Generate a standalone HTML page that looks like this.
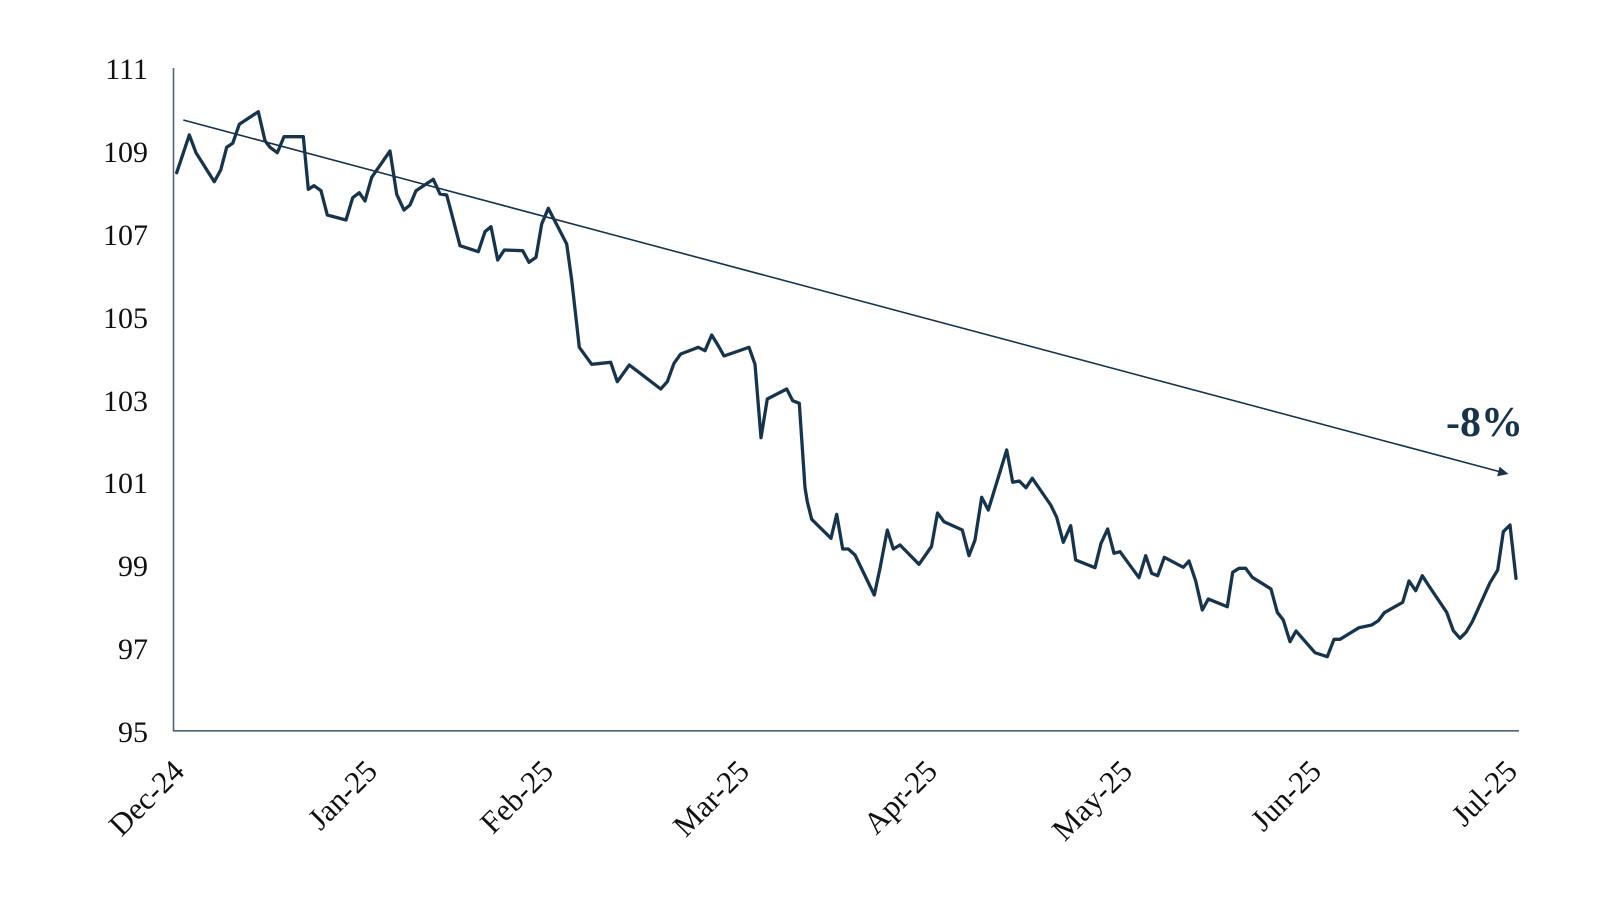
<!DOCTYPE html>
<html>
<head>
<meta charset="utf-8">
<style>
  html, body { margin: 0; padding: 0; background: #ffffff; }
  body { width: 1600px; height: 900px; overflow: hidden; }
  svg { display: block; }
  .yl { font-family: "Liberation Serif", serif; font-size: 30px; fill: #111; }
  .xl { font-family: "Liberation Serif", serif; font-size: 31px; fill: #111; }
  .ann { font-family: "Liberation Serif", serif; font-size: 42px; font-weight: bold; fill: #17344d; }
</style>
</head>
<body>
<svg width="1600" height="900" viewBox="0 0 1600 900" xmlns="http://www.w3.org/2000/svg">
  <rect x="0" y="0" width="1600" height="900" fill="#ffffff"/>

  <!-- axes -->
  <line x1="173.5" y1="68" x2="173.5" y2="731" stroke="#4d6477" stroke-width="1.6"/>
  <line x1="173" y1="730.8" x2="1519" y2="730.8" stroke="#4d6477" stroke-width="1.6"/>

  <!-- y labels -->
  <text class="yl" x="148" y="79" text-anchor="end">111</text>
  <text class="yl" x="148" y="162" text-anchor="end">109</text>
  <text class="yl" x="148" y="245" text-anchor="end">107</text>
  <text class="yl" x="148" y="328" text-anchor="end">105</text>
  <text class="yl" x="148" y="411" text-anchor="end">103</text>
  <text class="yl" x="148" y="493" text-anchor="end">101</text>
  <text class="yl" x="148" y="576" text-anchor="end">99</text>
  <text class="yl" x="148" y="659" text-anchor="end">97</text>
  <text class="yl" x="148" y="742" text-anchor="end">95</text>

  <!-- x labels -->
  <text class="xl" text-anchor="end" transform="translate(186,773) rotate(-45)">Dec-24</text>
  <text class="xl" text-anchor="end" transform="translate(379,773) rotate(-45)">Jan-25</text>
  <text class="xl" text-anchor="end" transform="translate(555,773) rotate(-45)">Feb-25</text>
  <text class="xl" text-anchor="end" transform="translate(751,773) rotate(-45)">Mar-25</text>
  <text class="xl" text-anchor="end" transform="translate(939,773) rotate(-45)">Apr-25</text>
  <text class="xl" text-anchor="end" transform="translate(1134,773) rotate(-45)">May-25</text>
  <text class="xl" text-anchor="end" transform="translate(1323,773) rotate(-45)">Jun-25</text>
  <text class="xl" text-anchor="end" transform="translate(1519,773) rotate(-45)">Jul-25</text>

  <!-- trend arrow -->
  <line x1="183.3" y1="120" x2="1499" y2="471.5" stroke="#17344d" stroke-width="1.6"/>
  <polygon points="1508.5,474 1497.2,476.2 1499.6,466.8" fill="#17344d"/>
  <text class="ann" x="1446" y="436">-8%</text>

  <!-- series -->
  <polyline fill="none" stroke="#17344d" stroke-width="3.3" stroke-linejoin="round" stroke-linecap="round" points="
176.7,172.7 189.3,135 196,152.7 214.3,181.7 220.7,170 226.7,147.3 232.7,143.3 239.3,124.3 258.3,111.7 265,140.7
270,147.3 277.3,152.7 284,136.7 303.3,136.7 308.3,189.3 314,185.7 321,190.7 327.3,215 346,220 352.7,197.7
359.3,192.7 365,201 371.7,177.3 390,151 396.7,194.3 404,210 410,205 416,190.7 433.3,179.3 440,194
446.7,195 453.3,220 460,245.7 478.3,251.7 485,231.7 491,226.7 497.7,260 504.3,250 522.7,250.7 529,262.3
536,257.3 541.7,224 548.3,208.3 566.7,244 571.7,280 579.3,347.3 591.7,364.3 610.7,362.3 617.3,381.7 629.3,365
660.7,389 667.3,381.7 674,363.3 680.7,354 698.3,347.3 705,350.7 711.7,335 718.3,345.7 724,356 749,347.3
755,364.3 761,437.7 767.3,399 786.7,389 792.7,400.7 799.3,403.3 805,487.7 807.3,501.7 811.7,519.3 831,538.3
836.7,514.3 842.7,549 848.3,549 855,555 874.3,595 880,568.3 887.3,530 893.3,549 900,545 919,564.3
931.5,546.5 937.5,513 944,521.7 962.3,530 969,555.7 975,540 981.7,497.3 988.3,510 1006.7,450 1012.7,482.3
1019.3,481 1026,487.7 1032.3,478.3 1050.7,505 1056.7,517.3 1063.3,542.3 1070.7,525.7 1075.7,560 1095,567.7 1101,543.3
1107.7,529 1114,553.3 1120,551.7 1139,577.7 1145.7,555.7 1151.7,573.3 1157.7,575.7 1164.3,557.3 1183.3,567.3 1189,561
1195.7,581 1202.3,610 1208.3,599 1227.3,606.7 1232.7,572.3 1239,568.3 1245.7,568.3 1252.3,577.3 1271,589 1277.3,612.3
1283.3,620 1290,641.7 1296,631 1315,652.7 1327.3,656.7 1334,639.3 1340,639.3 1359,627.7 1371.7,625 1378.3,620.7
1384.3,612.7 1402.7,602.3 1409,581 1415.7,590.7 1422.3,575.7 1428.3,585 1446.7,612.3 1453.3,630.7 1460,638.3 1466,632.3
1472.3,621.7 1490,582.7 1497.7,570 1503.3,531.7 1510,525 1516,578.3"/>
</svg>
</body>
</html>
